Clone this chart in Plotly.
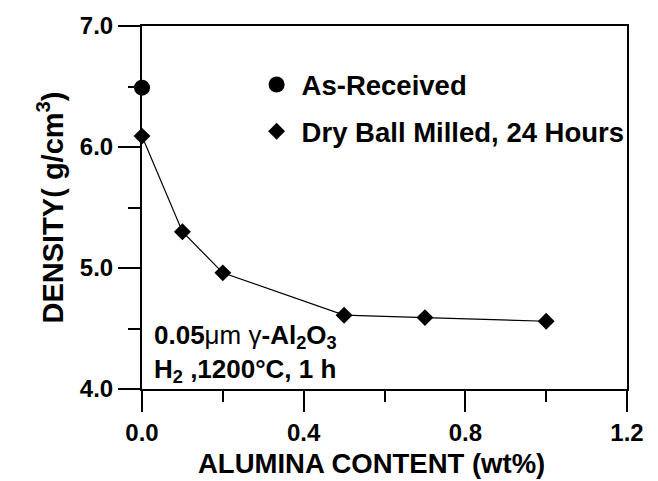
import plotly.graph_objects as go

# Data
as_received_x = [0.0]
as_received_y = [6.49]
milled_x = [0.0, 0.1, 0.2, 0.5, 0.7, 1.0]
milled_y = [6.09, 5.30, 4.96, 4.61, 4.59, 4.56]

x_ticks = [0.0, 0.4, 0.8, 1.2]
x_ticktext = ["0.0", "0.4", "0.8", "1.2"]
y_ticks = [4.0, 5.0, 6.0, 7.0]
y_ticktext = ["4.0", "5.0", "6.0", "7.0"]

FONT = "Liberation Sans, Arial, sans-serif"

fig = go.Figure()
# connecting line (no legend entry)
fig.add_trace(go.Scatter(
    x=milled_x, y=milled_y, mode="lines", showlegend=False,
    line=dict(color="black", width=1.2), hoverinfo="skip",
))
fig.add_trace(go.Scatter(
    x=milled_x, y=milled_y, mode="markers",
    name="Dry Ball Milled, 24 Hours", legendgroup="b", legendrank=2,
    marker=dict(symbol="diamond", size=13, color="black"),
    cliponaxis=False,
))
fig.add_trace(go.Scatter(
    x=as_received_x, y=as_received_y, mode="markers",
    name="As-Received", legendgroup="a", legendrank=1,
    marker=dict(symbol="circle", size=16, color="black"),
    cliponaxis=False,
))

axis_common = dict(
    showline=True, linecolor="black", linewidth=2, mirror=True,
    ticks="outside", tickcolor="black", tickwidth=2,
    showgrid=False, zeroline=False,
    tickfont=dict(family=FONT, size=24, color="black", weight="bold"),
)

fig.update_xaxes(
    range=[0, 1.2], tickvals=x_ticks, ticktext=x_ticktext, ticklen=21,
    minor=dict(dtick=0.2, ticklen=11, tickwidth=2, tickcolor="black", ticks="outside"),
    **axis_common,
)
fig.update_yaxes(
    range=[4.0, 7.0], tickvals=y_ticks, ticktext=y_ticktext, ticklen=22,
    minor=dict(dtick=0.5, ticklen=12, tickwidth=2, tickcolor="black", ticks="outside"),
    title=dict(text="DENSITY( g/cm<sup>3</sup>)",
               font=dict(family=FONT, size=29, color="black", weight="bold"),
               standoff=8),
    **axis_common,
)

# x-axis title (placed slightly left of centre as in the reference)
fig.add_annotation(
    xref="paper", yref="paper", x=0.474, y=-0.205,
    xanchor="center", yanchor="middle", showarrow=False,
    text="ALUMINA CONTENT (wt%)",
    font=dict(family=FONT, size=27.5, color="black", weight="bold"),
)

note_font = dict(family=FONT, size=26, color="black", weight="bold")
fig.add_annotation(
    xref="paper", yref="paper", x=0.02, y=0.146,
    xanchor="left", yanchor="middle", align="left", showarrow=False,
    text="0.05<span style='font-weight:normal'>μm γ</span>-Al<sub>2</sub>O<sub>3</sub>",
    font=note_font,
)
fig.add_annotation(
    xref="paper", yref="paper", x=0.02, y=0.051,
    xanchor="left", yanchor="middle", align="left", showarrow=False,
    text="H<sub>2</sub> ,1200°C, 1 h",
    font=note_font,
)

fig.update_layout(
    width=658, height=481,
    margin=dict(l=142, r=31, t=23, b=92),
    paper_bgcolor="white", plot_bgcolor="white",
    showlegend=True,
    legend=dict(
        x=0.226, y=0.906, xanchor="left", yanchor="top",
        bgcolor="rgba(0,0,0,0)", borderwidth=0,
        traceorder="grouped", tracegroupgap=8, itemwidth=40,
        font=dict(family=FONT, size=27.5, color="black", weight="bold"),
    ),
)

fig.write_html("out.html")
